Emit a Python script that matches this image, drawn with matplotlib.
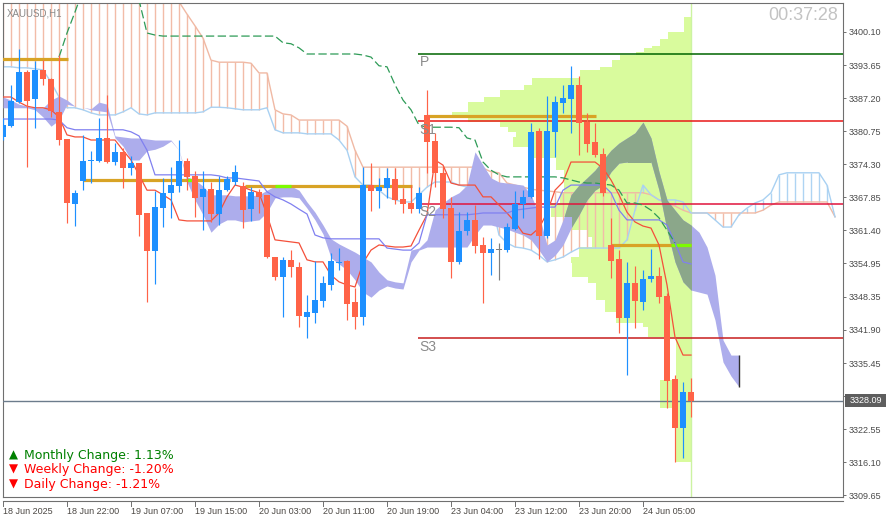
import numpy as np
import matplotlib.pyplot as plt
import matplotlib.transforms as mtransforms
from matplotlib.collections import LineCollection
from matplotlib.lines import Line2D
from matplotlib.patches import Rectangle
from matplotlib.path import Path

plt.rcParams['font.family'] = ['Liberation Sans', 'DejaVu Sans']
plt.rcParams['lines.scale_dashes'] = False

W, H = 889, 524

# ---- XAUUSD H1 bars ----
opens = [3379.6, 3381.7, 3386.4, 3392.3, 3387.0, 3392.7, 3390.9, 3384.5, 3379.2, 3366.5,
         3371.0, 3374.9, 3374.9, 3379.4, 3374.7, 3376.7, 3373.5, 3374.5, 3364.75, 3357.3,
         3365.7, 3368.7, 3370.0, 3374.9, 3372.0, 3367.9, 3369.4, 3364.55, 3369.2, 3370.8,
         3370.0, 3365.5, 3368.9, 3368.3, 3356.15, 3352.25, 3355.6, 3354.2, 3344.4, 3345.2,
         3347.6, 3350.7, 3355.0, 3355.4, 3347.4, 3344.4, 3370.2, 3369.05, 3369.6, 3371.4,
         3367.5, 3366.7, 3365.5, 3383.9, 3378.8, 3372.6, 3365.7, 3355.2, 3361.2, 3363.4,
         3358.5, 3356.9, 3357.5, 3357.5, 3361.6, 3366.5, 3367.9, 3380.8, 3360.3, 3380.6,
         3386.2, 3387.0, 3389.8, 3382.5, 3378.6, 3376.3, 3358.5, 3355.8, 3344.2, 3351.1,
         3347.4, 3351.9, 3352.4, 3348.5, 3332.3, 3322.8, 3329.8]
closes = [3381.9, 3386.6, 3392.3, 3386.6, 3392.7, 3390.9, 3384.7, 3379.0, 3366.7, 3368.7,
          3374.9, 3375.1, 3379.4, 3374.7, 3376.7, 3373.5, 3374.5, 3364.4, 3357.3, 3365.9,
          3368.7, 3370.2, 3374.9, 3371.8, 3367.7, 3369.4, 3364.55, 3369.2, 3371.4, 3372.8,
          3365.3, 3368.9, 3367.9, 3356.15, 3352.25, 3355.6, 3354.2, 3344.6, 3345.4, 3347.8,
          3351.1, 3355.4, 3355.2, 3347.0, 3344.4, 3370.2, 3369.05, 3369.8, 3371.6, 3367.3,
          3366.5, 3365.5, 3368.7, 3378.6, 3372.6, 3365.5, 3355.2, 3361.2, 3363.4, 3358.3,
          3356.9, 3357.7, 3357.5, 3362.0, 3366.5, 3367.9, 3380.6, 3360.3, 3380.8, 3386.4,
          3387.2, 3389.8, 3382.3, 3378.2, 3376.1, 3368.7, 3355.4, 3344.2, 3351.1, 3347.6,
          3351.9, 3352.4, 3348.3, 3331.9, 3322.8, 3329.8, 3328.09]
highs = [3383.3, 3389.8, 3396.8, 3392.7, 3394.4, 3394.6, 3391.1, 3395.6, 3379.2, 3369.2,
         3380.0, 3376.9, 3383.3, 3387.8, 3378.4, 3377.4, 3375.9, 3374.5, 3364.75, 3369.05,
         3371.6, 3373.7, 3379.0, 3375.5, 3373.0, 3373.0, 3370.8, 3372.0, 3372.0, 3374.1,
         3370.8, 3369.8, 3369.4, 3368.3, 3356.15, 3356.15, 3357.5, 3355.2, 3348.7, 3355.4,
         3352.4, 3356.9, 3357.9, 3355.6, 3350.1, 3373.7, 3374.5, 3371.6, 3373.5, 3373.5,
         3369.6, 3370.2, 3369.8, 3388.8, 3380.4, 3373.9, 3367.9, 3364.9, 3364.9, 3366.3,
         3360.1, 3359.9, 3358.9, 3362.8, 3369.05, 3369.2, 3382.3, 3381.4, 3387.6, 3387.6,
         3389.8, 3393.5, 3391.5, 3384.3, 3382.3, 3377.4, 3363.8, 3357.5, 3355.2, 3354.4,
         3353.6, 3357.7, 3354.2, 3349.1, 3333.1, 3331.7, 3332.5]
lows = [3379.0, 3381.5, 3386.2, 3373.7, 3381.4, 3389.8, 3383.5, 3378.0, 3362.8, 3362.2,
        3369.2, 3370.6, 3374.7, 3374.5, 3374.1, 3369.6, 3372.2, 3360.3, 3347.4, 3350.9,
        3362.0, 3363.8, 3368.9, 3369.2, 3364.0, 3361.4, 3363.0, 3362.4, 3369.05, 3370.2,
        3361.8, 3363.2, 3364.75, 3356.0, 3351.7, 3344.4, 3352.25, 3342.5, 3340.3, 3343.3,
        3346.4, 3349.7, 3353.6, 3343.85, 3342.1, 3342.9, 3365.1, 3365.7, 3367.7, 3366.5,
        3364.75, 3364.75, 3364.75, 3372.6, 3369.8, 3363.8, 3352.05, 3354.8, 3360.45, 3356.9,
        3347.2, 3352.6, 3351.7, 3357.1, 3361.4, 3363.8, 3367.7, 3355.8, 3359.9, 3375.7,
        3384.3, 3380.4, 3376.1, 3376.7, 3375.7, 3368.1, 3352.05, 3341.3, 3333.1, 3342.3,
        3345.8, 3351.3, 3347.2, 3326.7, 3316.1, 3316.9, 3324.9]
last_price = 3328.09

time_ticks = [0, 8, 16, 24, 32, 40, 48, 56, 64, 72, 80]
time_labels = ['18 Jun 2025', '18 Jun 22:00', '19 Jun 07:00', '19 Jun 15:00', '20 Jun 03:00',
               '20 Jun 11:00', '20 Jun 19:00', '23 Jun 04:00', '23 Jun 12:00', '23 Jun 20:00',
               '24 Jun 05:00']
price_ticks = [3400.10, 3393.65, 3387.20, 3380.75, 3374.30, 3367.85, 3361.40, 3354.95,
               3348.35, 3341.90, 3335.45, 3329.00, 3322.55, 3316.10, 3309.65]

# filled cloud (upper / lower edge per bar, extends 6 bars ahead)
cloud_top = [3387.4, 3386.8, 3386.0, 3385.6, 3385.3, 3385.3, 3386.8, 3387.6, 3386.8, 3385.6,
             3385.4, 3385.1, 3386.4, 3386.0, 3379.8, 3379.6, 3379.4, 3379.4, 3379.2, 3379.0,
             3379.0, 3379.0, 3377.0, 3371.8, 3371.2, 3370.0, 3368.3, 3368.3, 3368.3, 3368.1,
             3368.1, 3368.1, 3368.3, 3369.2, 3370.0, 3370.2, 3370.0, 3369.2, 3366.9, 3364.9,
             3362.4, 3359.7, 3358.7, 3357.9, 3357.1, 3356.15, 3355.2, 3353.2, 3351.7, 3351.3,
             3351.1, 3357.5, 3357.9, 3359.5, 3365.3, 3366.7, 3367.9, 3368.7, 3370.2, 3376.7,
             3374.1, 3371.6, 3370.8, 3370.6, 3370.4, 3370.2, 3368.3, 3364.4, 3358.5, 3359.5,
             3363.4, 3368.3, 3370.2, 3371.6, 3373.1, 3375.1, 3377.0, 3378.4, 3379.4, 3380.4,
             3382.5, 3379.4, 3372.8, 3367.3, 3365.3, 3363.4, 3362.4, 3361.0, 3358.1, 3352.6,
             3339.95, 3337.0, 3337.0]
cloud_bot = [3385.3, 3385.3, 3385.3, 3385.3, 3384.9, 3383.5, 3381.7, 3382.9, 3386.0, 3385.6,
             3385.4, 3384.9, 3384.7, 3384.5, 3379.4, 3377.8, 3375.1, 3375.1, 3376.9, 3377.2,
             3377.8, 3378.8, 3377.0, 3370.8, 3367.3, 3364.4, 3361.0, 3362.6, 3363.4, 3363.4,
             3363.0, 3363.2, 3363.4, 3364.9, 3367.7, 3367.9, 3367.9, 3367.7, 3365.7, 3363.4,
             3360.65, 3356.0, 3354.8, 3353.6, 3351.7, 3349.3, 3348.3, 3349.7, 3350.5, 3350.1,
             3349.9, 3355.2, 3357.5, 3358.1, 3358.1, 3358.1, 3358.1, 3358.1, 3358.1, 3360.45,
             3362.4, 3362.4, 3362.0, 3361.6, 3361.0, 3360.45, 3359.5, 3357.5, 3355.2, 3356.5,
             3358.5, 3361.8, 3364.4, 3367.3, 3369.2, 3370.2, 3372.8, 3374.5, 3374.7, 3374.7,
             3374.7, 3374.7, 3369.2, 3361.4, 3355.2, 3351.3, 3349.7, 3349.3, 3348.9, 3343.85,
             3335.65, 3332.9, 3330.8]

# hatched cloud spans (extend to bar 104)
span_a = [3393.3, 3393.3, 3393.1, 3393.1, 3392.9, 3392.7, 3390.3, 3387.4, 3385.3, 3385.3,
          3384.9, 3384.3, 3383.9, 3383.9, 3383.9, 3384.5, 3385.3, 3384.1, 3383.9, 3384.3,
          3384.3, 3384.3, 3384.3, 3384.3, 3384.3, 3384.5, 3385.4, 3385.4, 3385.3, 3385.1,
          3384.9, 3384.9, 3384.9, 3385.3, 3381.0, 3380.4, 3380.4, 3380.4, 3380.2, 3380.2,
          3380.2, 3380.2, 3379.0, 3377.0, 3371.8, 3370.2, 3370.2, 3369.2, 3367.9, 3367.3,
          3366.9, 3366.9, 3368.3, 3369.8, 3370.8, 3370.8, 3370.8, 3370.2, 3369.8, 3369.8,
          3369.2, 3367.3, 3360.45, 3358.9, 3358.1, 3357.9, 3357.5, 3356.5, 3355.2, 3355.6,
          3356.15, 3357.1, 3357.9, 3357.9, 3357.9, 3357.9, 3357.9, 3357.9, 3359.5, 3365.3,
          3370.2, 3368.3, 3367.3, 3367.3, 3367.3, 3366.9, 3364.75, 3364.75, 3364.75, 3363.4,
          3362.0, 3362.0, 3364.4, 3365.7, 3366.7, 3367.3, 3368.7, 3372.2, 3372.6, 3372.6,
          3372.6, 3372.6, 3372.6, 3370.2, 3364.0]
span_b = [3408.3, 3408.3, 3408.3, 3408.3, 3408.3, 3408.3, 3408.3, 3408.3, 3408.3, 3408.3,
          3408.3, 3408.3, 3408.3, 3408.3, 3408.3, 3408.3, 3408.3, 3408.3, 3408.3, 3408.3,
          3408.3, 3408.3, 3406.0, 3403.6, 3401.3, 3398.9, 3394.6, 3394.2, 3394.2, 3394.2,
          3394.2, 3394.0, 3392.1, 3392.1, 3384.9, 3384.1, 3383.9, 3382.9, 3382.9, 3382.9,
          3382.9, 3382.9, 3382.9, 3381.7, 3377.0, 3373.7, 3373.7, 3373.7, 3373.7, 3373.7,
          3373.7, 3373.7, 3373.7, 3373.7, 3373.7, 3373.7, 3373.7, 3373.7, 3373.7, 3373.7,
          3373.5, 3372.8, 3372.6, 3370.6, 3370.2, 3369.8, 3369.4, 3369.2, 3369.05, 3368.9,
          3368.7, 3368.7, 3368.7, 3368.7, 3368.7, 3368.7, 3368.7, 3368.7, 3368.7, 3368.7,
          3368.7, 3368.3, 3367.3, 3366.7, 3366.1, 3365.3, 3364.75, 3364.75, 3364.75, 3364.75,
          3364.75, 3364.75, 3364.75, 3364.75, 3364.75, 3365.3, 3366.3, 3366.9, 3366.9, 3366.9,
          3366.9, 3366.9, 3366.9, 3366.9, 3364.0]

red_line = [3387.4, 3387.4, 3386.4, 3385.6, 3385.3, 3385.3, 3384.9, 3383.5, 3380.0, 3379.6,
            3379.6, 3379.0, 3379.0, 3379.0, 3379.0, 3377.0, 3375.1, 3372.2, 3369.2, 3369.2,
            3368.3, 3367.3, 3363.4, 3363.2, 3363.2, 3363.2, 3363.2, 3364.75, 3367.9, 3370.2,
            3369.8, 3369.2, 3368.7, 3364.4, 3359.5, 3359.3, 3359.1, 3358.9, 3355.6, 3355.2,
            3355.2, 3352.6, 3351.3, 3350.7, 3350.3, 3355.0, 3357.5, 3358.5, 3358.3, 3358.1,
            3358.1, 3358.3, 3361.4, 3364.4, 3375.1, 3374.1, 3370.6, 3370.2, 3370.2, 3370.2,
            3367.9, 3367.9, 3366.3, 3364.75, 3363.0, 3360.8, 3360.45, 3361.8, 3364.75, 3369.2,
            3370.8, 3374.7, 3374.7, 3374.7, 3374.7, 3373.5, 3371.2, 3368.3, 3364.9, 3363.0,
            3362.2, 3361.8, 3358.5, 3350.7, 3340.5, 3337.0, 3337.0]
blue_line = [3383.1, 3383.1, 3383.1, 3383.1, 3383.1, 3383.1, 3383.1, 3382.9, 3381.4, 3381.0,
             3381.0, 3381.0, 3381.0, 3381.0, 3381.0, 3381.0, 3380.6, 3379.8, 3377.0, 3372.2,
             3372.2, 3372.2, 3372.2, 3372.2, 3372.2, 3372.2, 3372.2, 3372.0, 3371.6, 3371.6,
             3371.4, 3371.2, 3371.0, 3368.9, 3367.9, 3367.3, 3366.5, 3365.5, 3364.55, 3360.45,
             3359.9, 3359.7, 3359.7, 3359.7, 3359.7, 3359.7, 3359.7, 3359.7, 3357.9, 3357.7,
             3357.5, 3357.5, 3358.9, 3364.4, 3364.4, 3364.4, 3364.4, 3364.4, 3364.4, 3364.55,
             3364.75, 3364.75, 3364.75, 3364.75, 3365.3, 3365.5, 3365.7, 3365.9, 3365.9, 3365.9,
             3369.2, 3370.2, 3370.2, 3370.2, 3370.2, 3370.2, 3368.7, 3365.3, 3363.4, 3363.4,
             3363.4, 3363.4, 3363.4, 3362.4, 3358.9, 3355.2, 3354.8]
# dashed green line, bars 7..84
green_line = [3395.2, 3399.9, 3404.0, 3408.3, 3408.3, 3408.3, 3408.3, 3408.3, 3408.3, 3408.3,
              3406.35, 3399.9, 3399.5, 3399.3, 3399.3, 3399.3, 3399.3, 3399.3, 3399.3, 3399.3,
              3399.3, 3399.3, 3399.3, 3399.3, 3399.3, 3399.3, 3399.3, 3399.3, 3398.0, 3397.8,
              3397.0, 3395.8, 3395.8, 3395.8, 3395.8, 3395.8, 3395.8, 3395.8, 3395.6, 3395.2,
              3393.5, 3393.3, 3389.8, 3386.8, 3384.9, 3381.9, 3381.5, 3381.5, 3381.5, 3381.5,
              3381.4, 3379.4, 3379.0, 3374.7, 3373.1, 3372.2, 3371.8, 3371.8, 3371.8, 3371.8,
              3371.8, 3371.8, 3371.8, 3371.6, 3371.2, 3370.8, 3370.6, 3370.6, 3370.4, 3370.2,
              3369.2, 3366.7, 3366.7, 3366.3, 3365.3, 3363.8, 3361.4, 3358.9]
green_start = 7

# daily pivots
pivot_names = ['P', 'S1', 'S2', 'S3']
pivot_levels = [3395.8, 3382.7, 3366.5, 3340.3]
pivot_colors = ['#006400', '#e81818', '#e0143c', '#c81e1e']
pivot_from = 51.9

# daily opens
day_open = [3394.8, 3371.2, 3370.0, 3383.7, 3358.5]
day_start = [-1, 10, 30.2, 53, 76]

# volume profile (price bin edges, length in bars), anchored at last bar
prof_edges = [3403.0, 3400.1, 3398.7, 3397.4, 3397.0, 3396.2, 3395.6, 3394.6, 3393.3, 3392.7,
              3391.1, 3389.8, 3388.8, 3387.4, 3386.4, 3384.5, 3383.9, 3382.5, 3381.6, 3380.6,
              3379.6, 3377.6, 3375.5, 3373.2, 3368.7, 3366.7, 3364.0, 3361.4, 3360.1, 3358.1,
              3356.2, 3355.0, 3352.3, 3351.1, 3347.8, 3345.4, 3343.3, 3342.5, 3340.5, 3332.1,
              3326.7, 3316.1]
prof_len = [1.0, 3.0, 4.0, 5.0, 6.0, 7.0, 9.0, 10.0, 11.4, 14.0,
            20.0, 21.0, 24.0, 26.0, 28.0, 29.9, 28.0, 24.0, 23.0, 22.0,
            22.3, 20.1, 17.0, 16.0, 16.4, 17.6, 14.9, 13.0, 12.4, 14.1,
            15.1, 14.9, 13.0, 12.0, 10.8, 9.5, 6.1, 5.5, 2.0, 4.0, 2.0]

# ---- figure ----
fig = plt.figure(figsize=(W / 100, H / 100), dpi=100)
ax = fig.add_axes([2.5 / W, 1 - 497 / H, (843 - 2.5) / W, (497 - 3) / H])
ax.set_xlim(-0.0625, 105)
ax.set_ylim(3309.28, 3405.76)

n = len(opens)
last = n - 1
prof_right = last + 0.08

# volume profile
pe = np.array(prof_edges)
pl = np.array(prof_len)
lo = pe[1:]
hi = pe[:-1]
ax.barh(lo, pl, height=hi - lo, left=prof_right - pl, align='edge',
        color='#d9fb9d', lw=0, zorder=1)
ax.axvline(last, color='#ccf3a2', lw=1, zorder=1.2)

verts, codes = [], []
for a, b, w in zip(hi, lo, pl):
    x0 = prof_right - w
    verts += [(x0, b), (prof_right, b), (prof_right, a), (x0, a), (x0, b)]
    codes += [Path.MOVETO, Path.LINETO, Path.LINETO, Path.LINETO, Path.CLOSEPOLY]
prof_path = Path(verts, codes)

# hatched cloud
xs = np.arange(len(span_a))
sa = np.array(span_a)
sb = np.array(span_b)
segs = [[(i, sa[i]), (i, sb[i])] for i in xs]
hcols = ['#f2bca8' if sb[i] > sa[i] else '#aed4f3' for i in xs]
ax.add_collection(LineCollection(segs, colors=hcols, lw=1.0, zorder=2))
ax.plot(xs, sb, color='#f0b9a4', lw=1, zorder=2.2)
ax.plot(xs, sa, color='#a9d1f2', lw=1, zorder=2.2)

# filled cloud
xc = np.arange(len(cloud_top))
ct = np.array(cloud_top)
cb = np.array(cloud_bot)
ax.fill_between(xc, ct, cb, color='#adadec', lw=0, zorder=3)
gg = ax.fill_between(xc, ct, cb, color='#8ba78a', lw=0, zorder=3.1)
gg.set_clip_path(prof_path, ax.transData)
ax.vlines(xc[-1], cb[-1], ct[-1], color='#303030', lw=1, zorder=3.2)

# current price line
ax.axhline(last_price, color='#6c7c8c', lw=1, zorder=3.5)

# pivots
for name, lev, col in zip(pivot_names, pivot_levels, pivot_colors):
    ax.hlines(lev, pivot_from, 105, color=col, lw=1.1, zorder=4)
    ax.text(pivot_from + 0.15, lev - 1.65, name, color='#8a8a8a', fontsize=10,
            va='center', ha='left', zorder=7)

# daily open lines, lime where they cross the cloud
ends = [s - 1.85 for s in day_start[1:]] + [last]
for lev, s, e in zip(day_open, day_start, ends):
    xx = np.linspace(s, e, 400)
    ax.plot(xx, np.full_like(xx, lev), color='#d8a325', lw=2.3, zorder=4.5,
            solid_capstyle='butt')
    inside = (np.interp(xx, xc, ct) >= lev) & (np.interp(xx, xc, cb) <= lev)
    ax.plot(xx, np.where(inside, lev, np.nan), color='#7cfc00', lw=2.3, zorder=4.6,
            solid_capstyle='butt')

# indicator lines
xb = np.arange(n)
ax.plot(xb, red_line, color='#f4503a', lw=0.9, zorder=5)
ax.plot(xb, blue_line, color='#8080f0', lw=0.9, zorder=5)
xg = np.arange(green_start, green_start + len(green_line))
ax.plot(xg, green_line, color='#2e9b57', lw=0.9, dashes=(6, 2.5), zorder=5)

# candles
o = np.array(opens)
c = np.array(closes)
colors = np.where(c > o, '#1e90ff', np.where(c < o, '#ff6347', '#808080'))
ax.vlines(xb, lows, highs, colors=colors, lw=0.85, zorder=6)
ax.bar(xb, np.maximum(np.abs(c - o), 0.22), bottom=np.minimum(o, c), width=0.72,
       color=colors, lw=0, zorder=6.1)

# axes styling
for sp in ax.spines.values():
    sp.set_color('#6f6f6f')
    sp.set_linewidth(0.8)
ax.set_xticks([])
ax.yaxis.tick_right()
ax.set_yticks(price_ticks)
ax.set_yticklabels(['%.2f' % p for p in price_ticks])
ax.tick_params(axis='y', direction='out', length=2.5, width=0.7, color='#707070',
               labelcolor='#4a4a4a', labelsize=6.5, pad=1.5)

trans = mtransforms.blended_transform_factory(ax.transData, fig.transFigure)
for b, lab in zip(time_ticks, time_labels):
    ax.plot([b, b], [1 - 501 / H, 1 - 506 / H], transform=trans, clip_on=False,
            color='#707070', lw=0.7)
    ax.text(b + 0.05, 1 - 506.5 / H, lab, transform=trans, ha='left', va='top',
            fontsize=6.5, color='#4b4743')
fig.add_artist(Line2D([2.5 / W, 843 / W], [1 - 500.5 / H] * 2, color='#707070', lw=0.8))

# price label
fig.add_artist(Rectangle((845 / W, 1 - 406.5 / H), 41 / W, 13 / H, transform=fig.transFigure,
                         fc='#5e5e5e', ec='none', zorder=5))
fig.text(865.5 / W, 1 - 400.5 / H, '%.2f' % last_price, color='white', fontsize=6.5,
         ha='center', va='center', zorder=6)

# texts
fig.text(7 / W, 1 - 13.5 / H, 'XAUUSD,H1', color='#8a8a8a', fontsize=7, va='center')
fig.text(838 / W, 1 - 15 / H, '00:37:28', color='#c3c3c3', fontsize=13, ha='right',
         va='center')
info = [('▲', 'Monthly Change: 1.13%', '#008000', 455),
        ('▼', 'Weekly Change: -1.20%', '#ff0000', 469.5),
        ('▼', 'Daily Change: -1.21%', '#ff0000', 484.5)]
for arrow, txt, col, yy in info:
    fig.text(9 / W, 1 - yy / H, arrow, color=col, fontsize=8.5, va='center',
             family='DejaVu Sans')
    fig.text(24 / W, 1 - yy / H, txt, color=col, fontsize=9, va='center',
             family='DejaVu Sans')

fig.savefig('out.png', dpi=100)
